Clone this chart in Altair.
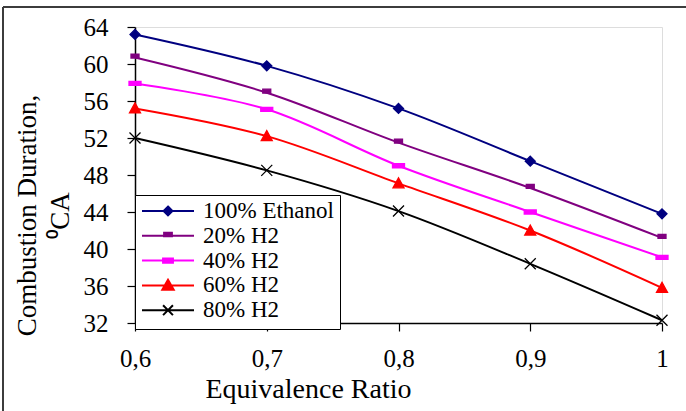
import altair as alt
import pandas as pd

# ---- data ----
ratio = [0.6, 0.7, 0.8, 0.9, 1.0]
series_names = ["100% Ethanol", "20% H2", "40% H2", "60% H2", "80% H2"]
ethanol = [63.2, 59.8, 55.2, 49.5, 43.8]
h2_20 = [60.7, 56.9, 51.5, 46.6, 41.2]
h2_40 = [57.9, 55.1, 49.0, 44.0, 39.1]
h2_60 = [55.2, 52.2, 47.1, 42.0, 35.8]
h2_80 = [52.0, 48.5, 44.1, 38.4, 32.3]
y_ticks = [32, 36, 40, 44, 48, 52, 56, 60, 64]
x_ticks = [0.6, 0.7, 0.8, 0.9, 1.0]

colors = ["#000080", "#800080", "#FF00FF", "#FF0000", "#000000"]

# marker shapes in the plot (unit = sqrt(size)/2)
plot_shapes = [
    "M0,-1L1,0L0,1L-1,0Z",
    "M-0.8,-0.7H0.8V0.1H-0.8Z",
    "M-1.2,-0.4H1.2V0.4H-1.2Z",
    "M0,-1.1L1.1,0.9H-1.1Z",
    "M-1.1,-1.1L1.1,1.1M-1.1,1.1L1.1,-1.1",
]
# legend symbols: line segment + marker
legend_shapes = [
    "M-1,0H1M0,-0.17L0.17,0L0,0.17L-0.17,0Z",
    "M-1,0H1M-0.15,-0.12H0.15V0.02H-0.15Z",
    "M-1,0H1M-0.19,-0.08H0.19V0.08H-0.19Z",
    "M-1,0H1M0,-0.22L0.22,0.17H-0.22Z",
    "M-1,0H1M-0.19,-0.19L0.19,0.19M-0.19,0.19L0.19,-0.19",
]

rows = []
for name, vals in zip(series_names, [ethanol, h2_20, h2_40, h2_60, h2_80]):
    for xv, yv in zip(ratio, vals):
        rows.append({"ratio": xv, "duration": yv, "series": name})
df = pd.DataFrame(rows)

FONT = "Liberation Serif"

x_enc = alt.X(
    "ratio:Q",
    scale=alt.Scale(domain=[0.6, 1.0], nice=False, zero=False),
    axis=alt.Axis(
        values=x_ticks,
        labelExpr="replace(format(datum.value, '~g'), '.', ',')",
        title="Equivalence Ratio",
        titleFont=FONT, titleFontSize=28, titleFontWeight="normal", titleColor="black",
        titleX=173, titleY=74, titleAlign="center", titleBaseline="alphabetic",
        labelFont=FONT, labelFontSize=25, labelColor="black", labelPadding=15,
        labelBaseline="top", labelFlush=False,
        grid=False, tickSize=8, tickColor="black", domainColor="black",
        domainWidth=1.5, tickWidth=1.2,
    ),
)
y_enc = alt.Y(
    "duration:Q",
    scale=alt.Scale(domain=[32, 64], nice=False, zero=False),
    axis=alt.Axis(
        values=y_ticks,
        title=["Combustion Duration,", "⁰CA"],
        titleFont=FONT, titleFontSize=27, titleFontWeight="normal", titleColor="black",
        titleAngle=270, titleX=-100, titleY=188, titleAlign="center",
        titleBaseline="alphabetic", titleLineHeight=33,
        labelFont=FONT, labelFontSize=25, labelColor="black", labelPadding=19,
        labelFlush=False,
        grid=False, tickSize=8, tickColor="black", domainColor="black",
        domainWidth=1.5, tickWidth=1.2,
    ),
)

col_scale = alt.Scale(domain=series_names, range=colors)

lines = alt.Chart(df).mark_line(interpolate="catmull-rom", strokeWidth=2).encode(
    x=x_enc, y=y_enc,
    color=alt.Color("series:N", scale=col_scale, legend=None),
    detail="series:N",
)

points = alt.Chart(df).mark_point(size=100, opacity=1, strokeWidth=1.3).encode(
    x=x_enc, y=y_enc,
    shape=alt.Shape("series:N", scale=alt.Scale(domain=series_names, range=plot_shapes), legend=None),
    fill=alt.Fill("series:N", scale=col_scale, legend=None),
    stroke=alt.Stroke("series:N", scale=col_scale, legend=None),
)

leg = alt.Legend(
    title=None, orient="none", legendX=0, legendY=168,
    fillColor="white", strokeColor="black", padding=6, cornerRadius=0,
    clipHeight=20, rowPadding=1.8, symbolSize=2704, symbolStrokeWidth=2,
    symbolOpacity=1, symbolOffset=0,
    labelFont=FONT, labelFontSize=23, labelColor="black", labelOffset=8,
    labelBaseline="middle", labelLimit=300,
)

legend_layer = alt.Chart(df).transform_filter("false").mark_point(opacity=1).encode(
    x=x_enc, y=y_enc,
    shape=alt.Shape("series:N", scale=alt.Scale(domain=series_names, range=legend_shapes), legend=leg),
    fill=alt.Fill("series:N", scale=col_scale, legend=leg),
    stroke=alt.Stroke("series:N", scale=col_scale, legend=leg),
)

frame_df = pd.DataFrame({"a": [0]})
frame_top = alt.Chart(frame_df).mark_rule(color="#3c3c3c", strokeWidth=2).encode(
    x=alt.value(-132), x2=alt.value(570), y=alt.value(-20)
)
frame_left = alt.Chart(frame_df).mark_rule(color="#3c3c3c", strokeWidth=2).encode(
    x=alt.value(-132), y=alt.value(-20), y2=alt.value(400)
)

chart = alt.layer(frame_top, frame_left, lines, points, legend_layer).resolve_scale(
    shape="independent", fill="independent", stroke="independent", color="independent"
).resolve_legend(
    shape="independent", fill="independent", stroke="independent", color="independent"
).properties(
    width=527, height=296,
    autosize=alt.AutoSizeParams(type="none"),
    padding={"left": 135, "top": 27, "right": 24, "bottom": 88},
    background="white",
).configure_view(
    stroke="#808080", strokeWidth=1.5
).configure(font=FONT)

chart.save("out.html", embed_options={"renderer": "svg", "actions": False})
